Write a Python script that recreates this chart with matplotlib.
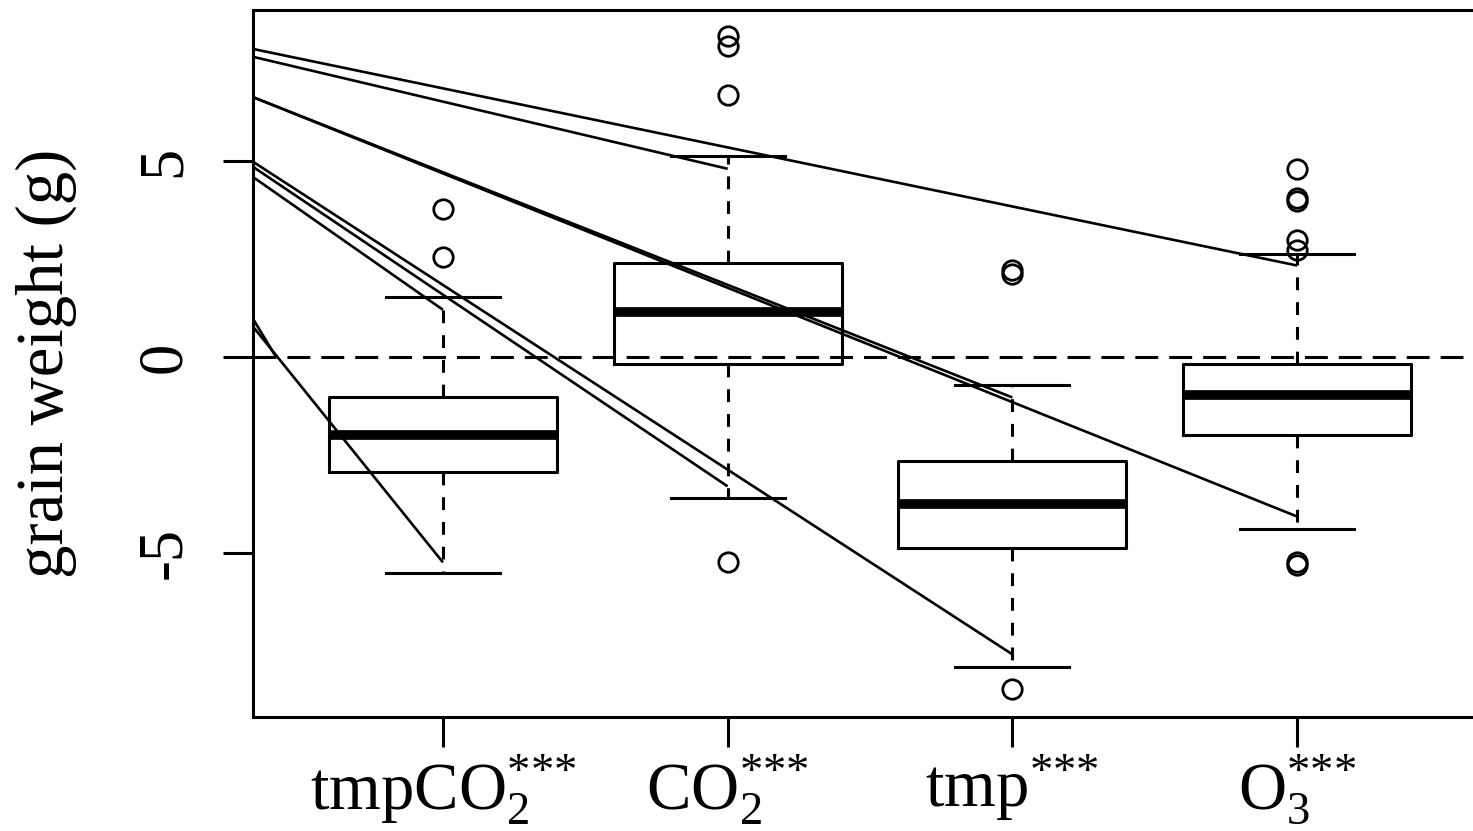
import matplotlib
matplotlib.use('Agg')
import matplotlib.pyplot as plt
import numpy as np

plt.rcParams['font.family'] = ['Liberation Serif', 'DejaVu Serif']
plt.rcParams['mathtext.fontset'] = 'custom'
plt.rcParams['mathtext.rm'] = 'Liberation Serif'
plt.rcParams['mathtext.it'] = 'Liberation Serif:italic'
plt.rcParams['mathtext.bf'] = 'Liberation Serif:bold'

# group labels (treatment effect, all significant)
labels = [r'$\mathrm{tmpCO}_2^{{*}{*}{*}}$', r'$\mathrm{CO}_2^{{*}{*}{*}}$',
          r'$\mathrm{tmp}^{{*}{*}{*}}$', r'$\mathrm{O}_3^{{*}{*}{*}}$']

# box statistics
q1 = [-2.93, -0.17, -4.87, -1.98]
med = [-2.00, 1.14, -3.76, -0.96]
q3 = [-1.03, 2.41, -2.64, -0.17]
whislo = [-5.51, -3.61, -7.92, -4.40]
whishi = [1.54, 5.14, -0.70, 2.64]
fliers = [[3.78, 2.55],
          [8.20, 7.94, 6.70, -5.22],
          [2.23, 2.13, -8.48],
          [4.81, 4.07, 3.99, 3.00, 2.74, -5.22, -5.32]]

# straight segments from the left edge to the groups
seg_x0 = [0.333, 0.333, 0.333, 0.333, 0.333, 0.333, 0.333, 0.333, 0.333]
seg_y0 = [7.87, 7.67, 6.64, 6.64, 4.99, 4.86, 4.60, 0.98, 0.78]
seg_x1 = [4, 2, 3, 4, 3, 2, 1, 0.414, 1]
seg_y1 = [2.34, 4.81, -1.03, -4.07, -7.59, -3.30, 1.21, 0.0, -5.24]

fig = plt.figure(figsize=(14.73, 8.31), dpi=100)
ax = fig.add_axes([253 / 1473, 114 / 831, 1234 / 1473, 707 / 831])

stats = []
for i in range(4):
    stats.append(dict(q1=q1[i], med=med[i], q3=q3[i], whislo=whislo[i],
                      whishi=whishi[i], fliers=fliers[i]))

lw = 2.2
ax.bxp(stats, positions=[1, 2, 3, 4], widths=0.8, showfliers=True,
       boxprops=dict(color='black', linewidth=lw),
       medianprops=dict(color='black', linewidth=7, solid_capstyle='butt'),
       whiskerprops=dict(color='black', linewidth=lw, linestyle=(0, (4.2, 3.9))),
       capprops=dict(color='black', linewidth=lw),
       flierprops=dict(marker='o', markersize=14, markerfacecolor='none',
                       markeredgecolor='black', markeredgewidth=2.0))

ax.axhline(0, color='black', linewidth=lw, linestyle=(0, (7.5, 3.6)), zorder=1)

for x0, y0, x1, y1 in zip(seg_x0, seg_y0, seg_x1, seg_y1):
    ax.plot([x0, x1], [y0, y1], color='black', linewidth=1.9, solid_capstyle='butt')

ax.set_xlim(0.333, 4.667)
ax.set_ylim(-9.19, 8.865)
ax.set_yticks([-5, 0, 5])
ax.set_yticklabels(['-5', '0', '5'])
ax.set_xticks([1, 2, 3, 4])
ax.set_xticklabels(labels)

for s in ax.spines.values():
    s.set_linewidth(lw)

ax.tick_params(axis='both', direction='out', length=21.6, width=lw)
ax.tick_params(axis='x', pad=4, labelsize=48)
ax.tick_params(axis='y', pad=21, labelsize=45)
plt.setp(ax.get_yticklabels(), rotation=90, va='center')

ax.set_ylabel('grain weight (g)', fontsize=48)
ax.yaxis.set_label_coords(-0.143, 0.5)

fig.savefig('out.png', dpi=100)
